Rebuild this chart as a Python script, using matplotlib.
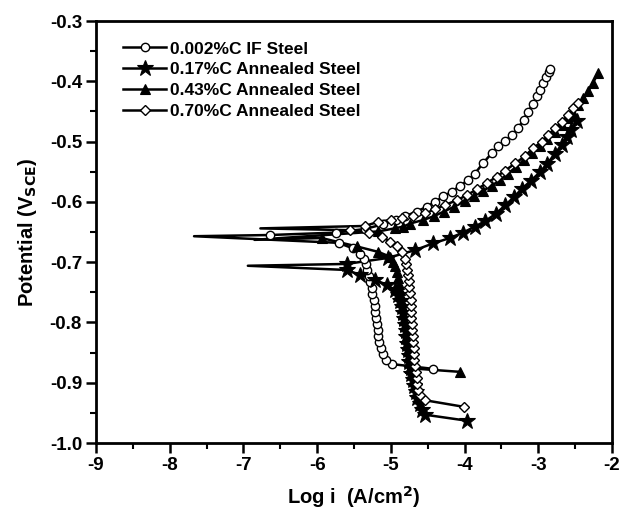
import numpy as np
import matplotlib
matplotlib.use("Agg")
import matplotlib.pyplot as plt
from matplotlib.ticker import MultipleLocator

plt.rcParams['font.family'] = ['Liberation Sans', 'DejaVu Sans']
plt.rcParams['font.weight'] = 'bold'

labels = ["0.002%C IF Steel", "0.17%C Annealed Steel",
          "0.43%C Annealed Steel", "0.70%C Annealed Steel"]

# 0.002%C IF Steel (open circles): log i, E
if_logi = [-4.43, -4.99, -5.07, -5.11, -5.14, -5.16, -5.17, -5.18, -5.19, -5.20, -5.21,
           -5.22, -5.23, -5.25, -5.26, -5.28, -5.30, -5.32, -5.34, -5.37, -5.42, -5.52,
           -5.71, -7.67, -6.64, -5.75, -5.35, -5.10, -4.93, -4.81, -4.65, -4.51, -4.40,
           -4.29, -4.17, -4.06, -3.95, -3.86, -3.75, -3.63, -3.54, -3.45, -3.36, -3.27,
           -3.20, -3.14, -3.07, -3.02, -2.97, -2.93, -2.89, -2.86, -2.84]
if_E = [-0.877, -0.869, -0.862, -0.853, -0.843, -0.833, -0.823, -0.813, -0.803, -0.793, -0.783,
        -0.773, -0.763, -0.753, -0.743, -0.733, -0.723, -0.713, -0.703, -0.694, -0.686, -0.677,
        -0.668, -0.657, -0.655, -0.651, -0.645, -0.637, -0.630, -0.624, -0.616, -0.608, -0.600,
        -0.591, -0.583, -0.573, -0.564, -0.553, -0.536, -0.519, -0.508, -0.499, -0.489, -0.477,
        -0.464, -0.451, -0.437, -0.425, -0.414, -0.403, -0.393, -0.385, -0.379]

# 0.17%C Annealed Steel (stars)
c17_logi = [-3.97, -4.54, -4.58, -4.61, -4.64, -4.66, -4.68, -4.70, -4.72, -4.73, -4.75,
            -4.76, -4.77, -4.78, -4.79, -4.80, -4.81, -4.82, -4.83, -4.85, -4.87, -4.90,
            -4.95, -5.05, -5.22, -5.42, -5.60, -6.94, -5.60, -5.04, -4.67, -4.43, -4.20,
            -4.02, -3.86, -3.72, -3.58, -3.45, -3.33, -3.22, -3.10, -2.98, -2.88, -2.78,
            -2.68, -2.61, -2.55, -2.48]
c17_E = [-0.963, -0.953, -0.945, -0.935, -0.925, -0.915, -0.905, -0.895, -0.885, -0.875, -0.865,
         -0.855, -0.845, -0.835, -0.825, -0.815, -0.805, -0.795, -0.785, -0.775, -0.765, -0.755,
         -0.746, -0.738, -0.729, -0.721, -0.713, -0.706, -0.703, -0.693, -0.680, -0.669, -0.660,
         -0.651, -0.641, -0.632, -0.620, -0.606, -0.592, -0.578, -0.565, -0.551, -0.537, -0.521,
         -0.505, -0.492, -0.480, -0.466]

# 0.43%C Annealed Steel (filled triangles)
c43_logi = [-4.06, -4.74, -4.75, -4.76, -4.77, -4.78, -4.79, -4.80, -4.81, -4.82, -4.83,
            -4.84, -4.85, -4.86, -4.87, -4.89, -4.90, -4.92, -4.94, -4.97, -5.01, -5.17,
            -5.46, -5.94, -6.85, -5.17, -4.95, -4.83, -4.74, -4.56, -4.42, -4.28, -4.14,
            -4.00, -3.87, -3.75, -3.63, -3.52, -3.41, -3.30, -3.20, -3.09, -2.98, -2.88,
            -2.78, -2.68, -2.60, -2.53, -2.46, -2.39, -2.32, -2.26, -2.19]
c43_E = [-0.882, -0.876, -0.866, -0.856, -0.846, -0.836, -0.826, -0.816, -0.806, -0.796, -0.786,
         -0.776, -0.766, -0.756, -0.746, -0.736, -0.726, -0.716, -0.707, -0.699, -0.691, -0.683,
         -0.674, -0.660, -0.663, -0.649, -0.644, -0.641, -0.636, -0.630, -0.624, -0.616, -0.608,
         -0.599, -0.590, -0.582, -0.573, -0.564, -0.553, -0.542, -0.531, -0.519, -0.508, -0.496,
         -0.484, -0.472, -0.461, -0.452, -0.440, -0.428, -0.416, -0.403, -0.387]

# 0.70%C Annealed Steel (open diamonds)
c70_logi = [-4.01, -4.54, -4.60, -4.63, -4.64, -4.65, -4.66, -4.67, -4.68, -4.69, -4.69,
            -4.70, -4.70, -4.71, -4.71, -4.72, -4.72, -4.73, -4.73, -4.74, -4.75, -4.76,
            -4.77, -4.78, -4.80, -4.81, -4.85, -4.92, -5.01, -5.12, -5.30, -5.55, -6.77,
            -5.35, -5.17, -5.00, -4.85, -4.70, -4.54, -4.40, -4.26, -4.10, -3.97, -3.83,
            -3.70, -3.56, -3.45, -3.31, -3.18, -3.07, -2.95, -2.87, -2.77, -2.68, -2.60,
            -2.53, -2.46]
c70_E = [-0.940, -0.929, -0.921, -0.912, -0.902, -0.892, -0.882, -0.872, -0.862, -0.852, -0.842,
         -0.832, -0.822, -0.812, -0.802, -0.792, -0.782, -0.772, -0.762, -0.752, -0.742, -0.732,
         -0.722, -0.713, -0.703, -0.694, -0.683, -0.674, -0.666, -0.658, -0.651, -0.647, -0.644,
         -0.640, -0.633, -0.630, -0.627, -0.624, -0.619, -0.612, -0.605, -0.597, -0.589, -0.579,
         -0.569, -0.558, -0.548, -0.536, -0.524, -0.511, -0.500, -0.489, -0.478, -0.467, -0.456,
         -0.445, -0.436]

xticks = [-9, -8, -7, -6, -5, -4, -3, -2]
yticks = [-1.0, -0.9, -0.8, -0.7, -0.6, -0.5, -0.4, -0.3]

fig = plt.figure(figsize=(6.24, 5.14), dpi=100)
ax = fig.add_axes([96/624, 1-443/514, 516/624, 422/514])

series = [
    (if_logi, if_E, dict(marker='o', mfc='white', mec='black', ms=6.0, mew=1.0)),
    (c17_logi, c17_E, dict(marker='*', mfc='black', mec='black', ms=12, mew=0.8)),
    (c43_logi, c43_E, dict(marker='^', mfc='black', mec='black', ms=7, mew=0.8)),
    (c70_logi, c70_E, dict(marker='D', mfc='white', mec='black', ms=5.5, mew=1.0)),
]
handles = []
for (xs, ys, st), lab in zip(series, labels):
    xs = np.asarray(xs); ys = np.asarray(ys)
    tip = int(np.argmin(xs))
    marks = [k for k in range(len(xs)) if k != tip]
    ax.plot(xs, ys, color='black', lw=1.8, zorder=2)
    ax.plot(xs[marks], ys[marks], ls='none', zorder=3, **st)
    h, = ax.plot([], [], color='black', lw=1.8, label=lab, **st)
    handles.append(h)

ax.set_xlim(-9, -2)
ax.set_ylim(-1.0, -0.3)
ax.set_xticks(xticks)
ax.set_yticks(yticks)
ax.set_xticklabels([f"{t:d}" for t in xticks])
ax.set_yticklabels([f"{t:.1f}" for t in yticks])
ax.xaxis.set_minor_locator(MultipleLocator(0.5))
ax.yaxis.set_minor_locator(MultipleLocator(0.05))
ax.tick_params(which='major', direction='out', length=7, width=1.8, labelsize=13.5, pad=3)
ax.tick_params(which='minor', direction='out', length=4, width=1.5)
for s in ax.spines.values():
    s.set_linewidth(2.0)
for lab in ax.get_xticklabels() + ax.get_yticklabels():
    lab.set_fontweight('bold')

ax.set_xlabel(r"Log i  (A/cm$^\mathbf{2}$)", fontsize=14.5, fontweight='bold', labelpad=7)
ax.set_ylabel(r"Potential (V$_\mathbf{SCE}$)", fontsize=14.5, fontweight='bold', labelpad=8)

leg = ax.legend(handles=handles, loc='upper left', bbox_to_anchor=(0.0455, 0.96),
                frameon=False, fontsize=12.5, handlelength=2.5, handletextpad=0.2,
                labelspacing=0.33, borderpad=0.2, borderaxespad=0, numpoints=1)
for t in leg.get_texts():
    t.set_fontweight('bold')

fig.savefig("out.png", dpi=100)
